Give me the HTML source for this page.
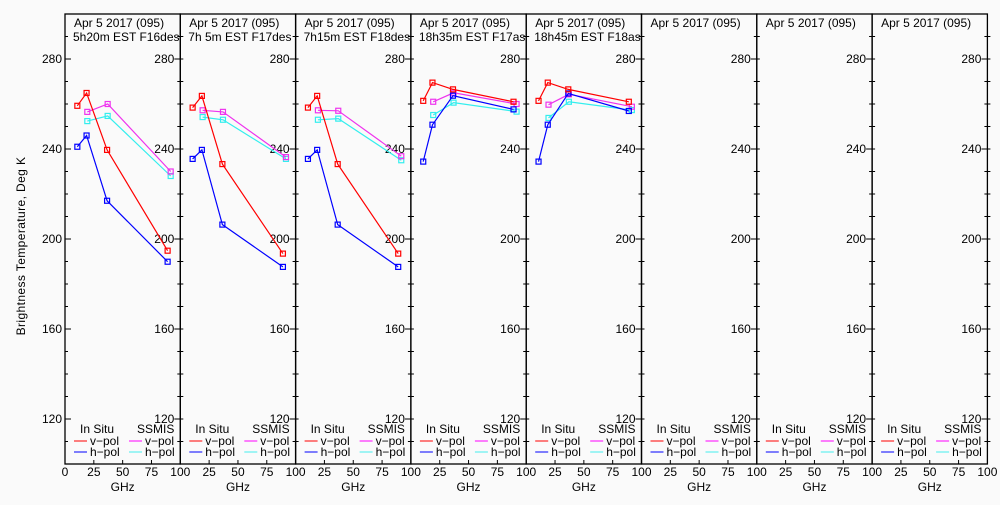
<!DOCTYPE html>
<html><head><meta charset="utf-8"><style>
body{margin:0;background:#fafafa;}
svg text{font-family:"Liberation Sans",sans-serif;font-size:12px;fill:#000;}
</style></head><body>
<svg id="chart" width="1000" height="500" xmlns="http://www.w3.org/2000/svg">
<rect width="1000" height="500" fill="#fafafa"/>
<text transform="translate(25,246) rotate(-90)" text-anchor="middle" font-size="13" letter-spacing="0.4">Brightness Temperature, Deg K</text>
<g id="panels"></g>
</svg>
<script>
const freqs=[10.7,18.7,36.5,89];
const ssmisFreqs=[19.35,37,91.65];
const titles1=["Apr 5 2017 (095)","Apr 5 2017 (095)","Apr 5 2017 (095)","Apr 5 2017 (095)","Apr 5 2017 (095)","Apr 5 2017 (095)","Apr 5 2017 (095)","Apr 5 2017 (095)"];
const titles2=["5h20m EST F16des","7h 5m  EST F17des","7h15m EST F18des","18h35m EST F17asc","18h45m EST F18asc","","",""];
const insituV=[[259.2,264.9,239.6,194.8],[258.4,263.6,233.3,193.5],[258.4,263.6,233.3,193.5],[261.4,269.5,266.5,261],[261.4,269.5,266.5,261],null,null,null];
const insituH=[[241,246,217,189.9],[235.6,239.6,206.4,187.6],[235.6,239.6,206.4,187.6],[234.4,250.8,263.7,257.6],[234.4,250.8,264.7,256.9],null,null,null];
const ssmisV=[[256.5,260,230],[257.2,256.5,236.4],[257.2,257,236.8],[261,265,260],[259.7,264.3,258.8],null,null,null];
const ssmisH=[[252.4,254.7,228],[254.2,253,235.6],[253,253.5,235],[255.1,260.6,256.6],[253.8,261,257.3],null,null,null];
const yTicks=[120,160,200,240,280];
const xTicks=[0,25,50,75,100];

const NS="http://www.w3.org/2000/svg";
const g=document.getElementById('panels');
const L0=65,PW=115.3,TOP=14,BOT=464;
function y(v){return BOT-(v-100)*2.25;}
function mk(tag,attrs,parent){const e=document.createElementNS(NS,tag);for(const k in attrs)e.setAttribute(k,attrs[k]);(parent||g).appendChild(e);return e;}
function line(x1,y1,x2,y2,c,p){return mk('line',{x1,y1,x2,y2,stroke:c||'#000','stroke-width':1},p);}
function txt(s,x,yy,anchor,p){const t=mk('text',{x,y:yy,'text-anchor':anchor||'start'},p);t.textContent=s;return t;}

for(let i=0;i<8;i++){
  const left=L0+i*PW,right=left+PW;
  const x=f=>left+f/100*PW;
  const pg=mk('g',{});
  
  
  const clipId='c'+i;
  const cp=mk('clipPath',{id:clipId},pg);mk('rect',{x:left,y:TOP,width:PW,height:BOT-TOP},cp);
  mk('rect',{x:left,y:TOP,width:PW,height:BOT-TOP,fill:'none',stroke:'#000','stroke-width':1.3},pg);
  for(let v=110;v<=290;v+=10){
    const yy=y(v);const major=(v%40===0);
    line(right-(major?6:3),yy,right+3,yy,'#000',pg);
    if(i===0) line(left,yy,left+(major?6:3),yy,'#000',pg);
  }
  for(const v of yTicks){
    const t=txt(String(v),right-6,y(v)+4,'end',pg);
    
    
    if(i===0){const t2=txt(String(v),left-3,y(v)+4,'end',pg);
      
      }
  }
  for(const f of xTicks){
    if(f>0&&f<100) line(x(f),BOT,x(f),BOT-4,'#000',pg);
    if(i>0&&f===0)continue;
    const t=txt(String(f),x(f),476,'middle',pg);
    
    
  }
  const gl=txt('GHz',left+PW/2,491,'middle',pg);
  
  
  const cg=mk('g',{'clip-path':'url(#'+clipId+')'},pg);
  const t1=txt(titles1[i],left+9,27,'start',cg);
  
  
  const t2=txt(titles2[i],left+8,41,'start',cg);
  
  
  const lg=mk('g',{},pg);
  
  
  txt('In Situ',left+15,433,'start',lg);txt('SSMIS',left+72,433,'start',lg);
  line(left+9,441,left+22,441,'#f00',lg);txt('v−pol',left+25,445,'start',lg);
  line(left+64,441,left+77,441,'#f0f',lg);txt('v−pol',left+80,445,'start',lg);
  line(left+9,452,left+22,452,'#00f',lg);txt('h−pol',left+25,456,'start',lg);
  line(left+64,452,left+77,452,'#4ee',lg);txt('h−pol',left+80,456,'start',lg);
  const series=[[ssmisH[i],ssmisFreqs,'#33eeee','ssmis-h-pol'],[ssmisV[i],ssmisFreqs,'#ee33ee','ssmis-v-pol'],[insituH[i],freqs,'#0000ff','insitu-h-pol'],[insituV[i],freqs,'#ff0000','insitu-v-pol']];
  for(const [vals,fs,col,name] of series){
    if(!vals)continue;
    const pts=vals.map((v,k)=>x(fs[k]).toFixed(1)+','+y(v).toFixed(1)).join(' ');
    const pl=mk('polyline',{points:pts,fill:'none',stroke:col,'stroke-width':1.2},cg);
    
    
    vals.forEach((v,k)=>{
      const r=mk('rect',{x:x(fs[k])-2.5,y:y(v)-2.5,width:5,height:5,fill:'none',stroke:col,'stroke-width':1.2},cg);
      
      
    });
  }
}
</script>
</body></html>
